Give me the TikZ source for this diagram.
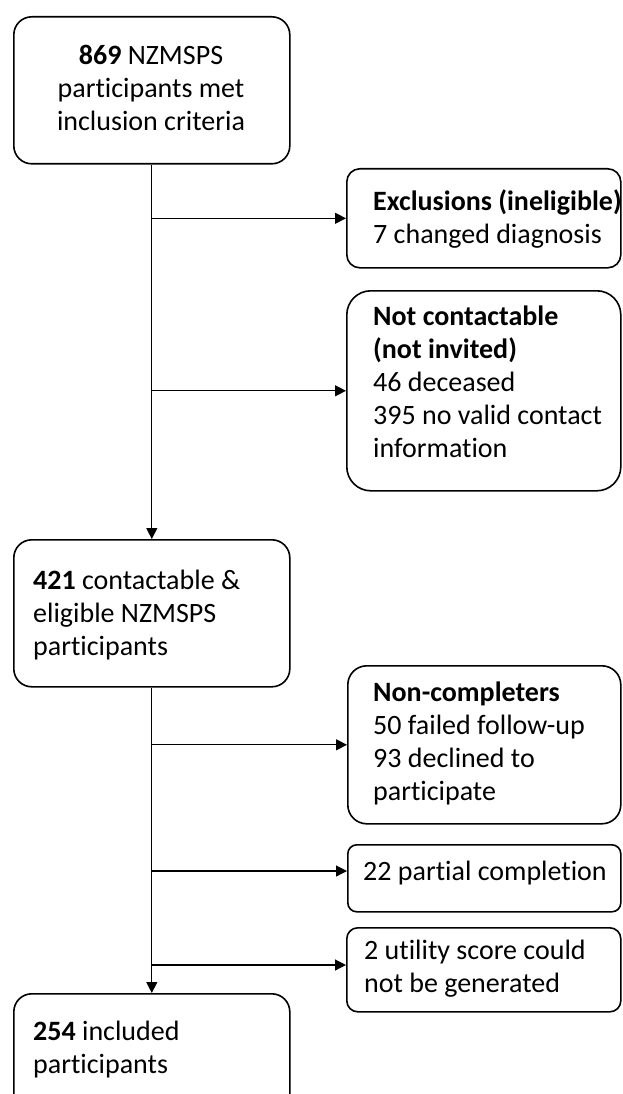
\documentclass[tikz,border=0pt]{standalone}
\usepackage{fontspec}
\setmainfont{Carlito}[Ligatures=CommonOff]
\usetikzlibrary{arrows.meta}
\begin{document}
\begin{tikzpicture}[x=1pt,y=-1pt,
  box/.style={draw, line width=1.6pt, rectangle, inner sep=0pt, anchor=north west},
  txt/.style={inner sep=0pt, align=left, font=\fontsize{28}{33}\selectfont},
  conn/.style={line width=1.2pt},
  arr/.style={conn, -{Triangle[length=11pt,width=11pt]}}]
\useasboundingbox (0,0) rectangle (622,1094);
\clip (0,0) rectangle (622,1094);
% boxes
\node[box, rounded corners=18pt, minimum width=276pt, minimum height=147pt] (b1) at (13,16) {};
\node[box, rounded corners=13pt, minimum width=274pt, minimum height=99pt] (exc) at (346,168) {};
\node[box, rounded corners=24pt, minimum width=274pt, minimum height=200pt] (nc) at (346,290) {};
\node[box, rounded corners=18pt, minimum width=276pt, minimum height=147pt] (b421) at (13,539) {};
\node[box, rounded corners=19pt, minimum width=273pt, minimum height=158pt] (ncomp) at (347,665) {};
\node[box, rounded corners=9pt, minimum width=273pt, minimum height=67pt] (part) at (347,844) {};
\node[box, rounded corners=11pt, minimum width=274pt, minimum height=84pt] (util) at (346,927) {};
\node[box, rounded corners=18pt, minimum width=276pt, minimum height=140pt] (b254) at (13,993) {};
% texts (base anchor = baseline of the last line)
\node[txt, align=center, anchor=base] (t1) at (151,131) {\textbf{869} NZMSPS\\participants met\\inclusion criteria};
\node[txt, anchor=base west] (texc) at (373,243) {\textbf{Exclusions (ineligible)}\\7 changed diagnosis};
\node[txt, anchor=base west] (tnc) at (373,457) {\textbf{Not contactable}\\\textbf{(not invited)}\\46 deceased\\395 no valid contact\\information};
\node[txt, anchor=base west] (t421) at (33,655) {\textbf{421} contactable \&\\eligible NZMSPS\\participants};
\node[txt, anchor=base west] (tncomp) at (373,800) {\textbf{Non-completers}\\50 failed follow-up\\93 declined to\\participate};
\node[txt, anchor=base west] (tpart) at (363,880) {22 partial completion};
\node[txt, anchor=base west] (tutil) at (364,992) {2 utility score could\\not be generated};
\node[txt, anchor=base west] (t254) at (33,1073) {\textbf{254} included\\participants};
% connectors
\coordinate (jp) at (151,871);
\coordinate (ju) at (151,965);
\draw[arr] (b1.south) -- (b421.north);
\draw[arr] (b1.south |- exc.west) -- (exc.west);
\draw[arr] (b1.south |- nc.west) -- (nc.west);
\draw[arr] (b421.south) -- (b254.north);
\draw[arr] (b421.south |- ncomp.west) -- (ncomp.west);
\draw[arr] (jp) -- (jp -| part.west);
\draw[arr] (ju) -- (ju -| util.west);
\end{tikzpicture}
\end{document}
